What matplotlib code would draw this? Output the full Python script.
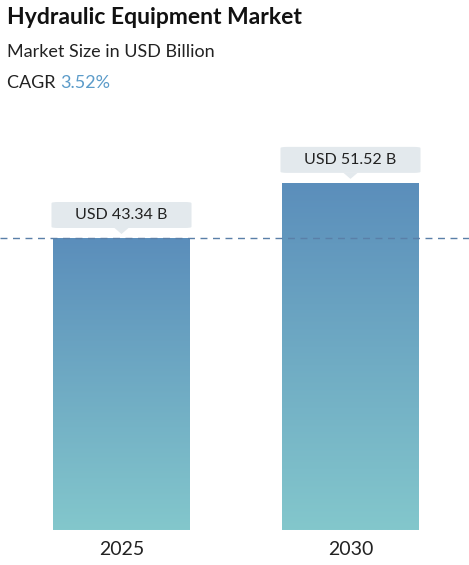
import matplotlib
matplotlib.use("Agg")
import matplotlib.pyplot as plt
import numpy as np
from matplotlib.colors import LinearSegmentedColormap
from matplotlib.patches import FancyBboxPatch, Polygon

years = ["2025", "2030"]
values = [43.34, 51.52]
labels = ["USD 43.34 B", "USD 51.52 B"]
title = "Hydraulic Equipment Market"
subtitle = "Market Size in USD Billion"
cagr = "3.52%"

plt.rcParams['font.family'] = ['Lato', 'DejaVu Sans']
W, H = 469, 565
fig = plt.figure(figsize=(W/100, H/100), dpi=100)
ax = fig.add_axes([0, (H-530)/H, 1, 400/H])
px = 292/43.34
ax.set_ylim(0, 400/px)
ax.set_xlim(-121.5/229, 1+118.5/229)
bw = 137/229
cmap = LinearSegmentedColormap.from_list("g", ["#83c7cc", "#5b8ebb"])
grad = np.linspace(0, 1, 256).reshape(-1, 1)
for i, v in enumerate(values):
    bar = ax.bar(i, v, width=bw, color="none")[0]
    im = ax.imshow(grad, extent=(i-bw/2, i+bw/2, 0, v), origin="lower", cmap=cmap, aspect="auto", zorder=1)
    im.set_clip_path(bar)
    # label box
    cy = v + 23/px
    bwid, bh = 140/229, 26/px
    box = FancyBboxPatch((i-bwid/2, cy-bh/2), bwid, bh, boxstyle="round,pad=0,rounding_size=0.03",
                         fc="#e3e9ed", ec="none", zorder=3, mutation_aspect=1/px*229/6)
    ax.add_patch(box)
    tri = Polygon([[i-7/229, cy-bh/2], [i+7/229, cy-bh/2], [i, cy-bh/2-6/px]], closed=True, fc="#e3e9ed", ec="none", zorder=3)
    ax.add_patch(tri)
    ax.text(i, cy, labels[i], ha="center", va="center", fontsize=11.5, color="#222222", zorder=4)
ax.axhline(values[0], color="#5a7fa8", ls=(0, (5, 4)), lw=1, zorder=2)
ax.set_xticks([0, 1])
ax.set_xticklabels(years, fontsize=14, color="#222222")
ax.tick_params(length=0, pad=8)
ax.set_yticks([])
for s in ax.spines.values():
    s.set_visible(False)
ax.patch.set_alpha(0)

fig.text(7/W, 1-18/H, title, fontsize=16.5, fontweight="bold", va="center", color="#111111")
fig.text(7/W, 1-52/H, subtitle, fontsize=13, va="center", color="#222222")
t = fig.text(7/W, 1-83/H, "CAGR ", fontsize=13, va="center", color="#222222")
fig.canvas.draw()
bb = t.get_window_extent()
fig.text(bb.x1/W, 1-83/H, cagr, fontsize=13, va="center", color="#5b9bc9")
fig.savefig("out.png", dpi=100)
